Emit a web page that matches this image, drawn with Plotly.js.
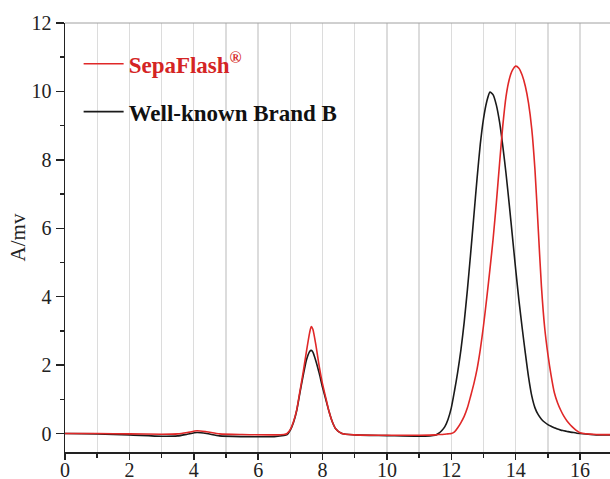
<!DOCTYPE html>
<html>
<head>
<meta charset="utf-8">
<script src="https://cdn.plot.ly/plotly-3.0.1.min.js"></script>
<style>
  html, body { margin: 0; padding: 0; background: #fff; }
  #canvas { width: 610px; height: 479px; }
</style>
</head>
<body>
<div id="canvas"></div>
<script>
// retention time (min)
var time = [
  0, 1, 2, 3, 3.5, 3.8, 4.1, 4.4, 4.8, 5.5, 6.5, 6.8,
  6.9, 7.0, 7.1, 7.2, 7.3, 7.4, 7.5, 7.6, 7.65, 7.7, 7.8, 7.9, 8.0, 8.1, 8.2, 8.3, 8.4, 8.6,
  9, 10, 11, 11.5,
  11.6, 11.7, 11.8, 11.9, 12.0, 12.1, 12.2, 12.3, 12.4, 12.5, 12.6, 12.7, 12.8, 12.9, 13.0,
  13.1, 13.2, 13.3, 13.4, 13.5, 13.6, 13.7, 13.8, 13.9, 14.0, 14.1, 14.2, 14.3, 14.4, 14.5,
  14.6, 14.7, 14.8, 14.9, 15.0, 15.1, 15.2, 15.3, 15.4, 15.5, 15.6, 15.7, 15.8, 15.9, 16.0,
  16.5, 17
];

// SepaFlash signal
var sepaFlash = [
  0, 0, -0.01, -0.02, -0.01, 0.03, 0.08, 0.05, -0.01, -0.03, -0.04, -0.03,
  0.0, 0.12, 0.35, 0.7, 1.25, 1.8, 2.4, 2.95, 3.13, 3.05, 2.55, 1.95, 1.45, 1.05, 0.65, 0.35, 0.15, 0.0,
  -0.04, -0.05, -0.05, -0.04,
  -0.03, -0.03, -0.02, -0.01, 0.0, 0.05, 0.17, 0.32, 0.5, 0.75, 1.09, 1.45, 1.88, 2.45, 3.15,
  3.95, 4.8, 5.7, 6.75, 7.9, 9.0, 9.85, 10.35, 10.62, 10.74, 10.68, 10.48, 10.15, 9.65, 8.9,
  7.7, 6.0, 4.3, 3.1, 2.32, 1.7, 1.2, 0.9, 0.68, 0.5, 0.36, 0.25, 0.16, 0.08, 0.02,
  -0.03, -0.03
];

// Well-known Brand B signal
var brandB = [
  0, -0.01, -0.04, -0.08, -0.07, -0.02, 0.03, 0.0, -0.07, -0.09, -0.09, -0.06,
  -0.03, 0.1, 0.33, 0.68, 1.2, 1.7, 2.15, 2.4, 2.43, 2.38, 2.1, 1.75, 1.35, 1.0, 0.65, 0.35, 0.15, 0.0,
  -0.04, -0.06, -0.08, -0.05,
  0.0, 0.08, 0.2, 0.42, 0.75, 1.25, 1.8, 2.45, 3.25, 4.2, 5.25, 6.35, 7.45, 8.45, 9.2,
  9.7, 9.98, 9.9, 9.6, 9.1, 8.4, 7.6, 6.7, 5.75, 4.8, 3.9, 3.1, 2.35, 1.65, 1.1,
  0.75, 0.55, 0.42, 0.33, 0.26, 0.21, 0.17, 0.13, 0.1, 0.08, 0.06, 0.04, 0.03, 0.01, 0.0,
  -0.04, -0.04
];

var xTicks = [0, 2, 4, 6, 8, 10, 12, 14, 16];
var yTicks = [0, 2, 4, 6, 8, 10, 12];

var serif = 'Liberation Serif, Times New Roman, serif';

var trace1 = {
  x: time,
  y: brandB,
  type: 'scatter',
  mode: 'lines',
  name: '<b>Well-known Brand B</b>',
  legendgroup: 'b',
  legendrank: 2,
  line: { color: '#1a1a1a', width: 1.6, shape: 'spline', smoothing: 0.6 }
};
var trace2 = {
  x: time,
  y: sepaFlash,
  type: 'scatter',
  mode: 'lines',
  name: '<b><span style="color:#d42424">SepaFlash<sup>®</sup></span></b>',
  legendgroup: 'a',
  legendrank: 1,
  line: { color: '#e02828', width: 1.6, shape: 'spline', smoothing: 0.6 }
};
var data = [trace1, trace2];

var layout = {
  width: 610,
  height: 479,
  margin: { l: 65, r: 0, t: 23, b: 27 },
  paper_bgcolor: '#fff',
  plot_bgcolor: '#fff',
  showlegend: true,
  legend: {
    x: 0.025,
    y: 0.955,
    xanchor: 'left',
    yanchor: 'top',
    bgcolor: 'rgba(0,0,0,0)',
    traceorder: 'grouped',
    tracegroupgap: 15,
    itemwidth: 40,
    font: { family: serif, size: 23, color: '#111' }
  },
  xaxis: {
    range: [0, 16.93],
    tickvals: xTicks,
    ticks: 'outside',
    ticklen: 6,
    tickwidth: 1.5,
    tickcolor: '#222',
    ticklabelstandoff: -7,
    showline: true,
    linecolor: '#222',
    linewidth: 1.5,
    showgrid: true,
    gridcolor: '#dcdcdc',
    gridwidth: 1.3,
    zeroline: false,
    minor: { dtick: 1, ticks: 'outside', ticklen: 4, tickcolor: '#222', showgrid: true, gridcolor: '#dcdcdc', gridwidth: 1.3 },
    tickfont: { family: serif, size: 20, color: '#222' }
  },
  yaxis: {
    range: [-0.54, 12],
    tickvals: yTicks,
    ticks: 'outside',
    ticklen: 8,
    tickwidth: 1.5,
    tickcolor: '#222',
    showline: true,
    linecolor: '#222',
    linewidth: 1.5,
    showgrid: false,
    zeroline: false,
    minor: { dtick: 1, ticks: 'outside', ticklen: 4, tickcolor: '#222' },
    tickfont: { family: serif, size: 20, color: '#222' },
    title: { text: 'A/mv', font: { family: serif, size: 21, color: '#222' }, standoff: 0 }
  },
  shapes: [
    { type: 'line', xref: 'paper', yref: 'paper', x0: 0, x1: 1, y0: 1, y1: 1, line: { color: '#a0a0a0', width: 1 } }
  ]
};

Plotly.newPlot('canvas', data, layout, { displayModeBar: false, staticPlot: true });
</script>
</body>
</html>
